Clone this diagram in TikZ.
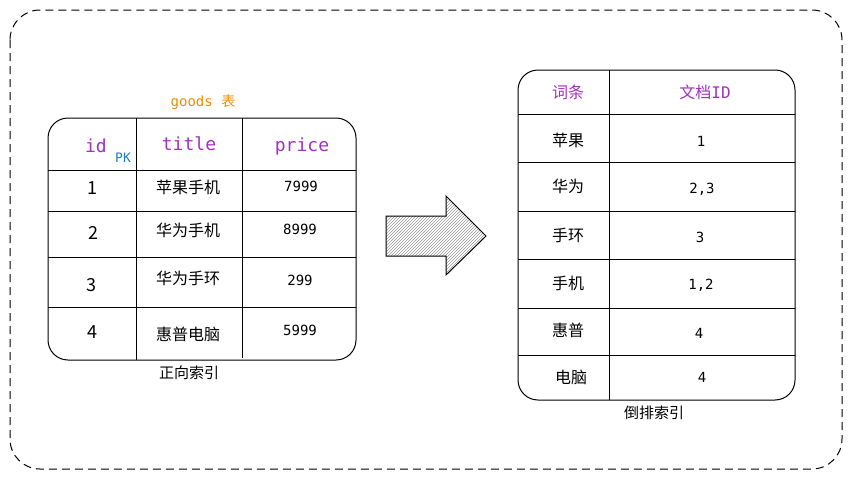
\documentclass[tikz,border=0pt]{standalone}
\usepackage{fontspec}
\setmonofont{DejaVu Sans Mono}
\newfontfamily\cjk{Noto Sans CJK SC}
\usetikzlibrary{patterns}
\definecolor{headPurple}{RGB}{160,50,190}
\definecolor{goodsOrange}{RGB}{240,140,0}
\definecolor{pkBlue}{RGB}{30,120,210}
\begin{document}
\begin{tikzpicture}
        [x=1pt, y=-1pt,
        head/.style={font=\ttfamily\fontsize{18}{18}\selectfont, text=headPurple},
        headCjk/.style={font=\cjk\fontsize{16}{16}\selectfont, text=headPurple},
        cell/.style={font=\cjk\fontsize{16}{16}\selectfont},
        idCell/.style={font=\cjk\fontsize{18}{18}\selectfont},
        num/.style={font=\ttfamily\fontsize{14}{14}\selectfont},
        frame/.style={draw, line width=1pt, rounded corners=20pt},
        grid/.style={line width=1pt}]
        \useasboundingbox (0,0) rectangle (852,479);
        \draw[line width=1pt, dash pattern=on 8pt off 5pt, rounded corners=30pt] (10,10) rectangle (842,469);

        % forward index table
        \node[font=\fontsize{14}{14}\selectfont, text=goodsOrange] (goods) at (203,102) {\ttfamily goods \cjk 表};
        \draw[frame] (48,118) rectangle (356,360);
        \foreach \y in {170,211,257,307}
            \draw[grid] (48,\y) -- (356,\y);
        \draw[grid] (136,118) -- (136,360);
        \draw[grid] (242,118) -- (242,358);
        \node[head] (id) at (96,146) {id};
        \node[font=\ttfamily\fontsize{13}{13}\selectfont, text=pkBlue] (pk) at (123,158) {PK};
        \node[head] (title) at (189,144) {title};
        \node[head] (price) at (302,147) {price};
        \node[idCell] (id1) at (92,188) {1};
        \node[idCell] (id2) at (93,233) {2};
        \node[idCell] (id3) at (91,285) {3};
        \node[idCell] (id4) at (92,332) {4};
        \node[cell] (title1) at (188,187) {苹果手机};
        \node[cell] (title2) at (188,230) {华为手机};
        \node[cell] (title3) at (188,278) {华为手环};
        \node[cell] (title4) at (188,334) {惠普电脑};
        \node[num] (price1) at (301,186) {7999};
        \node[num] (price2) at (300,229) {8999};
        \node[num] (price3) at (300,280) {299};
        \node[num] (price4) at (300,330) {5999};
        \node[cell, font=\cjk\fontsize{15}{15}\selectfont] (forward) at (189,373) {正向索引};

        % arrow
        \draw[line width=1pt, pattern=north east lines, pattern color=gray!80] (386,216) -- (446,216) -- (446,196) -- (486,236) -- (446,275) -- (446,256) -- (386,256) -- cycle;

        % inverted index table
        \draw[frame] (518,70) rectangle (795,400);
        \foreach \y in {114,162,211,259,308,355}
            \draw[grid] (518,\y) -- (795,\y);
        \draw[grid] (609,70) -- (609,400);
        \node[headCjk] (term) at (568,92) {词条};
        \node[headCjk] (docId) at (705,92) {文档\ttfamily ID};
        \node[cell] (term1) at (568,140) {苹果};
        \node[cell] (term2) at (568,186) {华为};
        \node[cell] (term3) at (568,235) {手环};
        \node[cell] (term4) at (568,283) {手机};
        \node[cell] (term5) at (568,330) {惠普};
        \node[cell] (term6) at (571,377) {电脑};
        \node[num] (doc1) at (701,141) {1};
        \node[num] (doc2) at (702,189) {2,3};
        \node[num] (doc3) at (700,237) {3};
        \node[num] (doc4) at (701,285) {1,2};
        \node[num] (doc5) at (699,333) {4};
        \node[num] (doc6) at (702,377) {4};
        \node[cell, font=\cjk\fontsize{15}{15}\selectfont] (inverted) at (654,413) {倒排索引};

\end{tikzpicture}
\end{document}
